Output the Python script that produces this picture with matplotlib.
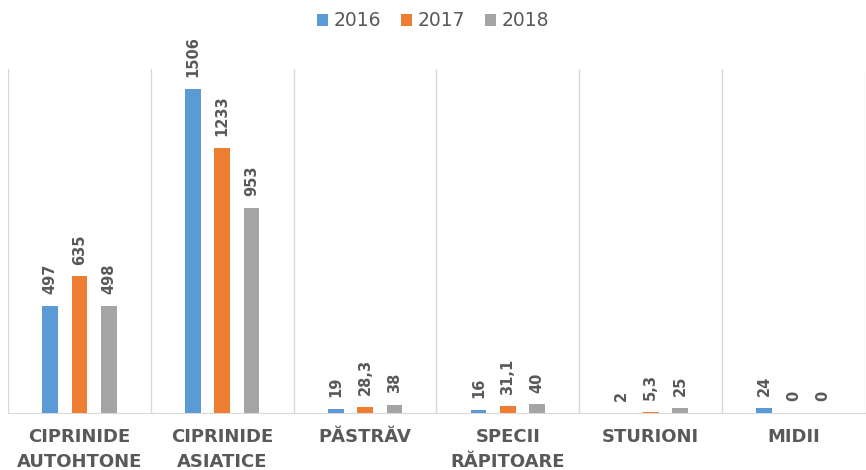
import numpy as np
from matplotlib import pyplot as plt

categories = ["CIPRINIDE\nAUTOHTONE", "CIPRINIDE\nASIATICE", "PĂSTRĂV",
              "SPECII\nRĂPITOARE", "STURIONI", "MIDII"]
years = ["2016", "2017", "2018"]
values_2016 = [497, 1506, 19, 16, 2, 24]
values_2017 = [635, 1233, 28.3, 31.1, 5.3, 0]
values_2018 = [498, 953, 38, 40, 25, 0]
colors = ["#5B9BD5", "#ED7D31", "#A5A5A5"]

text_color = "#595959"
grid_color = "#D9D9D9"

fig = plt.figure(figsize=(8.66, 4.70), dpi=100)
ax = fig.add_axes([8 / 866, (470 - 413) / 470, 857 / 866, (413 - 69) / 470])

x = np.arange(len(categories))
width = 0.11
offsets = [-0.205, 0, 0.205]
series = [values_2016, values_2017, values_2018]

for vals, off, color, year in zip(series, offsets, colors, years):
    bars = ax.bar(x + off, vals, width=width, color=color, label=year, zorder=3)
    for rect, v in zip(bars, vals):
        label = f"{v:g}".replace(".", ",")
        ax.annotate(label, (rect.get_x() + rect.get_width() / 2, rect.get_height()),
                    xytext=(0, 8.5), textcoords="offset points",
                    rotation=90, ha="center", va="bottom",
                    fontsize=10.5, fontweight="bold", color=text_color)

# category separators
for b in np.arange(len(categories) + 1) - 0.5:
    ax.axvline(b, color=grid_color, lw=1, zorder=1)

ax.set_xlim(-0.5, len(categories) - 0.5)
ax.set_ylim(0, 1600)
ax.set_yticks([])
for side in ["left", "right", "top"]:
    ax.spines[side].set_visible(False)
ax.spines["bottom"].set_color(grid_color)

ax.set_xticks(x)
ax.set_xticklabels(categories, fontsize=13, fontweight="bold", color=text_color,
                   linespacing=1.5, va="top")
ax.tick_params(axis="x", length=0, pad=11)

ax.legend(loc="center", bbox_to_anchor=(0.5, (470 - 21) / 470), bbox_transform=fig.transFigure,
          ncol=3, frameon=False, fontsize=13.5, labelcolor=text_color,
          handlelength=0.55, handleheight=0.55, handletextpad=0.3, columnspacing=1.1)

plt.savefig("out.png", dpi=100)
